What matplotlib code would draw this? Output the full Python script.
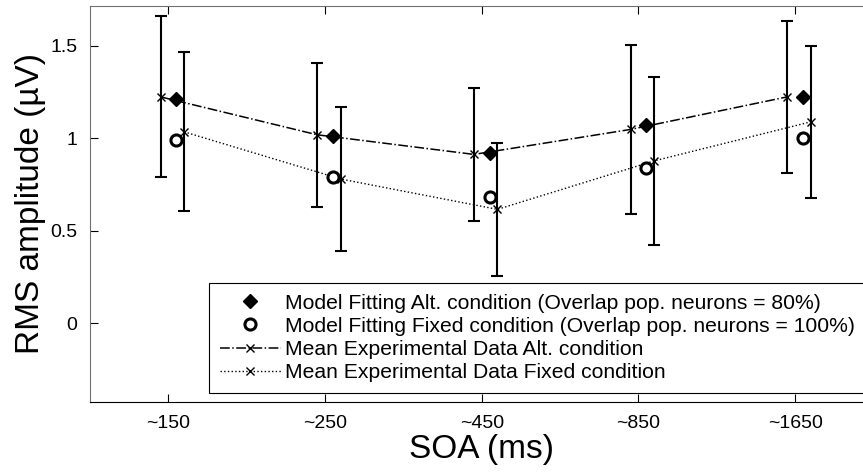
"""RMS amplitude vs SOA: model fits and mean experimental data."""

import matplotlib

matplotlib.use("Agg")
import matplotlib.pyplot as plt  # noqa: E402
import numpy as np  # noqa: E402

plt.rcParams["font.family"] = ["Liberation Sans", "DejaVu Sans"]

soa_labels = ["~150", "~250", "~450", "~850", "~1650"]
yticks = [0, 0.5, 1, 1.5]
ytick_labels = ["0", "0.5", "1", "1.5"]

alt_exp = [1.224, 1.019, 0.913, 1.048, 1.224]
alt_err = [0.435, 0.388, 0.360, 0.455, 0.410]
fix_exp = [1.035, 0.780, 0.616, 0.878, 1.089]
fix_err = [0.430, 0.387, 0.360, 0.455, 0.410]
model_alt = [1.212, 1.010, 0.918, 1.071, 1.221]
model_fix = [0.990, 0.792, 0.684, 0.837, 0.999]

W, H = 863, 472
fig = plt.figure(figsize=(W / 100, H / 100), dpi=100)
ax = fig.add_axes([90 / W, 1 - 402 / H, 783.5 / W, 396 / H])

x = np.arange(1, len(soa_labels) + 1)

h_alt = ax.plot(x - 0.05, alt_exp, color="k", linestyle="-.", linewidth=1.1,
                marker="x", markersize=6, markeredgewidth=1.0,
                label="Mean Experimental Data Alt. condition")[0]
ax.errorbar(x - 0.05, alt_exp, yerr=alt_err, fmt="none", ecolor="k",
            elinewidth=1.5, capsize=4.6, capthick=1.5)

h_fix = ax.plot(x + 0.1, fix_exp, color="k", linestyle=":", linewidth=1.0,
                marker="x", markersize=6, markeredgewidth=1.0,
                label="Mean Experimental Data Fixed condition")[0]
ax.errorbar(x + 0.1, fix_exp, yerr=fix_err, fmt="none", ecolor="k",
            elinewidth=1.5, capsize=4.6, capthick=1.5)

h_malt = ax.plot(x + 0.05, model_alt, linestyle="none", marker="D",
                 markersize=7, color="k",
                 label="Model Fitting Alt. condition (Overlap pop. neurons = 80%)")[0]
h_mfix = ax.plot(x + 0.05, model_fix, linestyle="none", marker="o",
                 markersize=8, markerfacecolor="white", markeredgecolor="k",
                 markeredgewidth=2.2,
                 label="Model Fitting Fixed condition (Overlap pop. neurons = 100%)")[0]

ax.set_xlim(0.5, 5.5)
ax.set_ylim(-0.425, 1.715)
ax.set_xticks(x)
ax.set_xticklabels(soa_labels, fontsize=14)
ax.set_yticks(yticks)
ax.set_yticklabels(ytick_labels, fontsize=14)
ax.tick_params(direction="in", length=6, width=0.8, top=True, right=False,
               pad=9)
ax.spines["top"].set_color("#707070")
ax.spines["left"].set_color("#707070")

ax.set_xlabel("SOA (ms)", fontsize=24, labelpad=2)
ax.set_ylabel("RMS amplitude (\u00b5V)", fontsize=24, labelpad=3)

leg = ax.legend([h_malt, h_mfix, h_alt, h_fix],
                [h.get_label() for h in (h_malt, h_mfix, h_alt, h_fix)],
                loc="upper left", bbox_to_anchor=(209 / W, 1 - 283 / H),
                bbox_transform=fig.transFigure, borderaxespad=0,
                fontsize=15.2, frameon=True, fancybox=False, framealpha=1,
                edgecolor="k", labelspacing=0.2, handlelength=2.9,
                handletextpad=0.2, borderpad=0.5)
leg.get_frame().set_linewidth(0.8)

fig.savefig("out.png", dpi=100)
